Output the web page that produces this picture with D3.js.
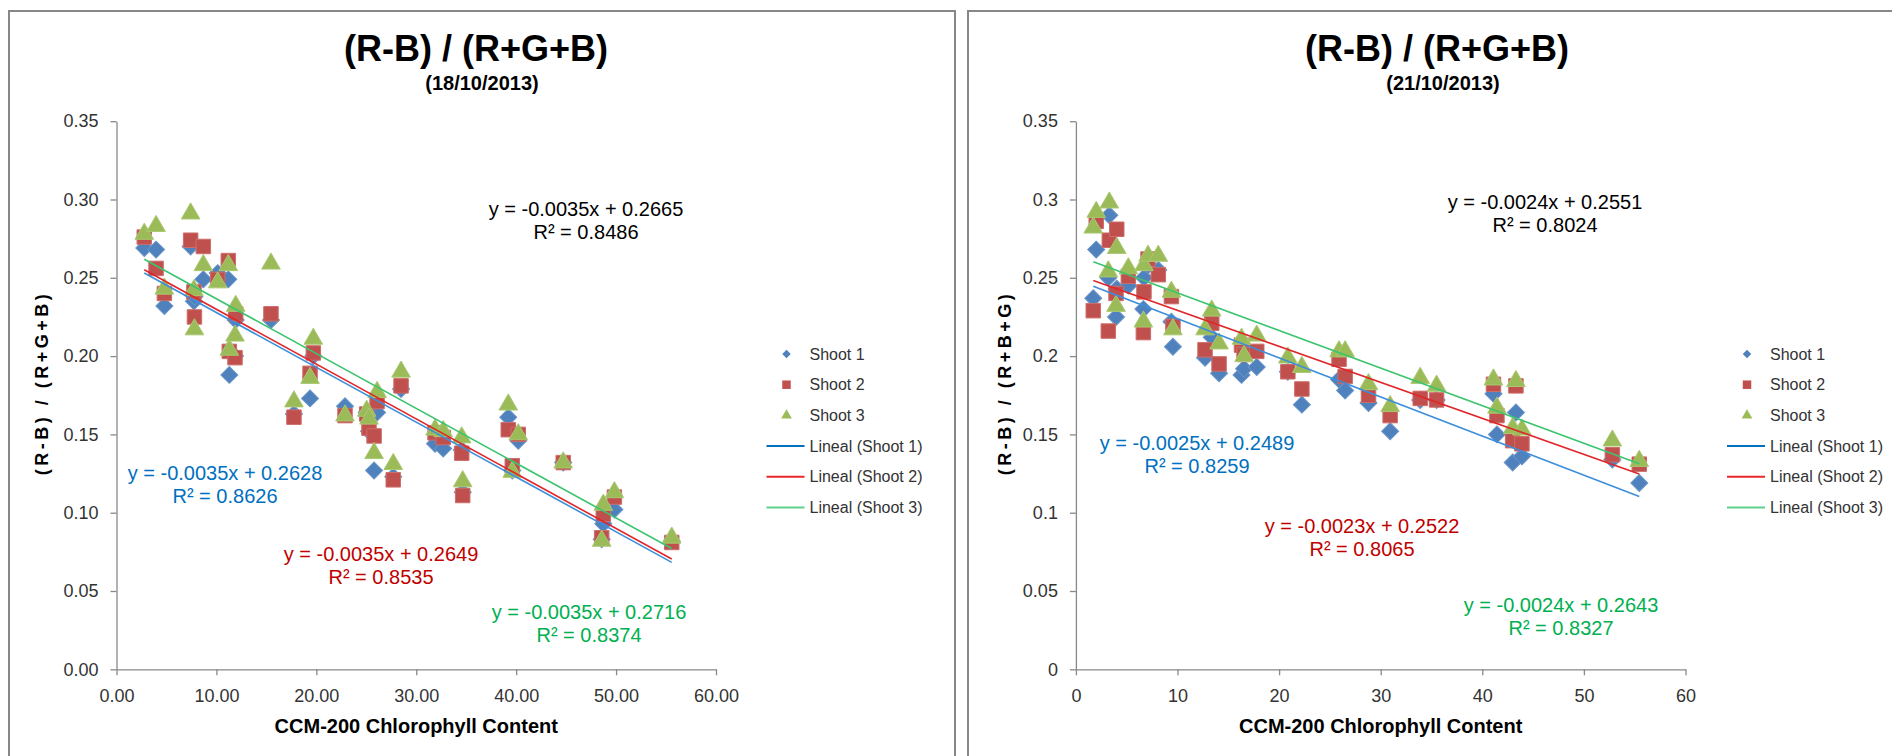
<!DOCTYPE html>
<html>
<head>
<meta charset="utf-8">
<script src="https://cdn.jsdelivr.net/npm/d3@7"></script>
<style>
body { margin: 0; background: #fff; }
svg text { font-family: "Liberation Sans", Arial, sans-serif; }
</style>
</head>
<body>
<svg id="chart" width="1892" height="756"></svg>
<script>
// 18/10/2013 readings: chlorophyll content and (R-B)/(R+G+B) per shoot
var leftX = [2.78, 3.96, 4.79, 7.42, 7.75, 7.8, 8.69, 10.13, 11.19, 11.29, 11.86, 11.93, 15.46, 17.76, 19.37, 19.7,
    22.87, 25.04, 25.27, 25.78, 26.08, 27.7, 28.48, 31.88, 32.7, 34.55, 34.65, 39.21, 39.61, 40.21, 44.71, 48.56, 48.72, 49.83, 55.57];
var leftShoot1 = [0.269, 0.268, 0.232, 0.270, 0.235, 0.238, 0.249, 0.253, 0.249, 0.188, 0.200, 0.223, 0.223, 0.163, 0.173, 0.200,
    0.168, 0.164, 0.152, 0.127, 0.164, 0.123, 0.179, 0.144, 0.141, 0.140, 0.113, 0.161, 0.127, 0.146, 0.132, 0.083, 0.093, 0.102, 0.082];
var leftShoot2 = [0.276, 0.256, 0.240, 0.274, 0.241, 0.225, 0.270, 0.249, 0.261, 0.203, 0.199, 0.227, 0.227, 0.161, 0.189, 0.202,
    0.162, 0.163, 0.154, 0.149, 0.171, 0.121, 0.181, 0.151, 0.148, 0.138, 0.111, 0.153, 0.130, 0.150, 0.132, 0.084, 0.099, 0.110, 0.081];
var leftShoot3 = [0.278, 0.283, 0.243, 0.291, 0.242, 0.217, 0.258, 0.247, 0.258, 0.204, 0.213, 0.232, 0.259, 0.171, 0.186, 0.211,
    0.162, 0.165, 0.160, 0.138, 0.177, 0.131, 0.190, 0.153, 0.152, 0.148, 0.120, 0.169, 0.126, 0.150, 0.132, 0.082, 0.105, 0.113, 0.084];

// 21/10/2013 readings
var rightX = [1.71, 2.0, 3.29, 3.19, 3.95, 4.02, 5.16, 6.7, 6.64, 7.1, 8.11, 9.4, 9.55, 12.71, 13.37, 14.09, 16.3, 16.55, 17.8,
    20.86, 22.24, 25.9, 26.5, 28.8, 30.93, 33.89, 35.5, 41.1, 41.44, 42.99, 43.31, 43.9, 52.8, 55.45];
var rightShoot1 = [0.237, 0.268, 0.290, 0.250, 0.225, 0.243, 0.245, 0.250, 0.230, 0.258, 0.255, 0.222, 0.206, 0.199, 0.212, 0.189, 0.188, 0.192, 0.193,
    0.190, 0.169, 0.185, 0.178, 0.170, 0.152, 0.172, 0.172, 0.176, 0.150, 0.132, 0.164, 0.136, 0.134, 0.119];
var rightShoot2 = [0.229, 0.286, 0.274, 0.216, 0.240, 0.281, 0.251, 0.241, 0.215, 0.262, 0.252, 0.238, 0.219, 0.204, 0.221, 0.195, 0.207, 0.201, 0.203,
    0.190, 0.179, 0.198, 0.187, 0.175, 0.162, 0.173, 0.172, 0.182, 0.162, 0.146, 0.181, 0.144, 0.137, 0.131];
var rightShoot3 = [0.282, 0.292, 0.298, 0.254, 0.232, 0.269, 0.256, 0.258, 0.222, 0.264, 0.264, 0.241, 0.217, 0.217, 0.229, 0.208, 0.211, 0.200, 0.213,
    0.199, 0.193, 0.203, 0.203, 0.182, 0.168, 0.186, 0.181, 0.185, 0.167, 0.154, 0.184, 0.153, 0.146, 0.133];

// linear fits: shoot 1, shoot 2, shoot 3, then all shoots together
var leftSlope = [-0.0035, -0.0035, -0.0035, -0.0035];
var leftIntercept = [0.2628, 0.2649, 0.2716, 0.2665];
var leftR2 = ["0.8626", "0.8535", "0.8374", "0.8486"];
var rightSlope = [-0.0025, -0.0023, -0.0024, -0.0024];
var rightIntercept = [0.2489, 0.2522, 0.2643, 0.2551];
var rightR2 = ["0.8259", "0.8065", "0.8327", "0.8024"];

var xTicks = [0, 10, 20, 30, 40, 50, 60];
var yTicks = [0, 0.05, 0.10, 0.15, 0.20, 0.25, 0.30, 0.35];
var seriesNames = ["Shoot 1", "Shoot 2", "Shoot 3"];
var fitNames = ["Lineal (Shoot 1)", "Lineal (Shoot 2)", "Lineal (Shoot 3)"];

var markerColors = ["#4f81bd", "#c0504d", "#9bbb59"];
var markerEdges = ["#6a95c8", "#cd6e6b", "#aac872"];
var lineColors = ["#3d8fdc", "#e0262a", "#3cc46e"];
var legendLineColors = ["#0070c0", "#e8282c", "#5fd08a"];
var eqColors = ["#0070c0", "#c00000", "#00b050", "#000000"];
var symbols = [
    d3.symbol().type(d3.symbolSquare).size(145),
    d3.symbol().type(d3.symbolSquare).size(210),
    d3.symbol().type(d3.symbolTriangle).size(150)
];
var legendSymbols = [
    d3.symbol().type(d3.symbolSquare).size(36),
    d3.symbol().type(d3.symbolSquare).size(72),
    d3.symbol().type(d3.symbolTriangle).size(50)
];

var svg = d3.select('#chart');
svg.append('rect').attr('width', 1892).attr('height', 756).attr('fill', 'white');

function fmtEq(slope, intercept) {
    return "y = " + slope.toFixed(4) + "x + " + intercept.toFixed(4);
}

function drawPanel(p) {
    var g = svg.append('g');

    g.append('rect')
        .attr('x', p.frame[0]).attr('y', p.frame[1])
        .attr('width', p.frame[2]).attr('height', p.frame[3])
        .attr('fill', 'white')
        .attr('stroke', '#878787')
        .attr('stroke-width', 2);

    var xs = d3.scaleLinear().domain([0, 60]).range([p.left, p.right]);
    var ys = d3.scaleLinear().domain([0, 0.35]).range([p.bottom, p.top]);

    var yAxis = g.append('g')
        .attr('transform', 'translate(' + p.left + ',0)')
        .call(d3.axisLeft(ys).tickValues(yTicks).tickFormat(p.yFormat).tickSizeInner(6).tickSizeOuter(0).tickPadding(12));
    var xAxis = g.append('g')
        .attr('transform', 'translate(0,' + p.bottom + ')')
        .call(d3.axisBottom(xs).tickValues(xTicks).tickFormat(p.xFormat).tickSizeInner(6).tickSizeOuter(0).tickPadding(14));
    [xAxis, yAxis].forEach(function(a) {
        a.select('.domain').attr('stroke', '#898989').attr('stroke-width', 1.3);
        a.selectAll('.tick line').attr('stroke', '#898989').attr('stroke-width', 1.3);
        a.selectAll('.tick text')
            .style('font-family', '"Liberation Sans", Arial, sans-serif')
            .style('font-size', '18px')
            .attr('fill', '#333');
    });

    // points, shoot 1 first so later shoots sit on top
    p.series.forEach(function(vals, si) {
        g.append('g').selectAll('path')
            .data(vals.map(function(v, i) { return [p.xs[i], v]; }))
            .enter()
            .append('path')
                .attr('d', symbols[si])
                .attr('transform', function(d) {
                    var t = 'translate(' + xs(d[0]) + ',' + ys(d[1]) + ')';
                    return si == 0 ? t + ' rotate(45)' : t;
                })
                .attr('fill', markerColors[si])
                .attr('stroke', markerEdges[si])
                .attr('stroke-width', 1);
    });

    // trend lines over the data range
    var x0 = d3.min(p.xs), x1 = d3.max(p.xs);
    for (var i = 0; i < 3; i++) {
        g.append('line')
            .attr('x1', xs(x0)).attr('y1', ys(p.slope[i] * x0 + p.intercept[i]))
            .attr('x2', xs(x1)).attr('y2', ys(p.slope[i] * x1 + p.intercept[i]))
            .attr('stroke', lineColors[i])
            .attr('stroke-width', 1.6);
    }

    // equation labels
    p.eqPos.forEach(function(pos, i) {
        var t = g.append('text')
            .attr('text-anchor', 'middle')
            .style('font-size', '20px')
            .attr('fill', eqColors[i]);
        t.append('tspan').attr('x', pos[0]).attr('y', pos[1]).attr('dy', '0.35em')
            .text(fmtEq(p.slope[i], p.intercept[i]));
        t.append('tspan').attr('x', pos[0]).attr('y', pos[1] + 23).attr('dy', '0.35em')
            .text("R² = " + p.r2[i]);
    });

    // titles
    var cx = p.frame[0] + p.titleX;
    g.append('text')
        .attr('x', cx).attr('y', 48).attr('dy', '0.35em')
        .attr('text-anchor', 'middle')
        .style('font-size', '36px').style('font-weight', 'bold')
        .text("(R-B) / (R+G+B)");
    g.append('text')
        .attr('x', cx + 6).attr('y', 83).attr('dy', '0.35em')
        .attr('text-anchor', 'middle')
        .style('font-size', '20px').style('font-weight', 'bold')
        .text(p.date);
    g.append('text')
        .attr('x', (p.left + p.right) / 2).attr('y', 726).attr('dy', '0.35em')
        .attr('text-anchor', 'middle')
        .style('font-size', '20px').style('font-weight', 'bold')
        .text("CCM-200 Chlorophyll Content");
    g.append('text')
        .attr('transform', 'translate(' + p.yTitleX + ',383) rotate(-90)')
        .attr('dy', '0.35em')
        .attr('text-anchor', 'middle')
        .style('font-size', '18px').style('font-weight', 'bold')
        .style('letter-spacing', '3.5px')
        .text(p.yTitle);

    // legend
    var lg = g.append('g').attr('transform', 'translate(' + p.legendX + ',354)');
    seriesNames.forEach(function(name, i) {
        lg.append('path')
            .attr('d', legendSymbols[i])
            .attr('transform', 'translate(0,' + (i * 30.7) + ')' + (i == 0 ? ' rotate(45)' : ''))
            .attr('fill', markerColors[i]);
        lg.append('text')
            .attr('x', 23).attr('y', i * 30.7).attr('dy', '0.35em')
            .style('font-size', '16px').attr('fill', '#333')
            .text(name);
    });
    fitNames.forEach(function(name, i) {
        var y = (i + 3) * 30.7;
        lg.append('line')
            .attr('x1', -20).attr('x2', 18).attr('y1', y).attr('y2', y)
            .attr('stroke', legendLineColors[i]).attr('stroke-width', 2);
        lg.append('text')
            .attr('x', 23).attr('y', y).attr('dy', '0.35em')
            .style('font-size', '16px').attr('fill', '#333')
            .text(name);
    });
}

drawPanel({
    frame: [9, 11, 946, 760], titleX: 467,
    left: 116.5, right: 716, top: 121.2, bottom: 669.3,
    xs: leftX, series: [leftShoot1, leftShoot2, leftShoot3],
    slope: leftSlope, intercept: leftIntercept, r2: leftR2,
    eqPos: [[225, 473], [381, 554], [589, 612], [586, 209]],
    xFormat: d3.format('.2f'), yFormat: d3.format('.2f'),
    date: "(18/10/2013)", yTitle: "(R-B) / (R+G+B)", yTitleX: 42,
    legendX: 786.5
});

drawPanel({
    frame: [968, 11, 940, 760], titleX: 469,
    left: 1075.9, right: 1685.5, top: 121.2, bottom: 669.3,
    xs: rightX, series: [rightShoot1, rightShoot2, rightShoot3],
    slope: rightSlope, intercept: rightIntercept, r2: rightR2,
    eqPos: [[1197, 443], [1362, 526], [1561, 605], [1545, 202]],
    xFormat: d3.format('d'), yFormat: function(d) { return String(+d.toFixed(2)); },
    date: "(21/10/2013)", yTitle: "(R-B) / (R+B+G)", yTitleX: 1005,
    legendX: 1747
});
</script>
</body>
</html>
